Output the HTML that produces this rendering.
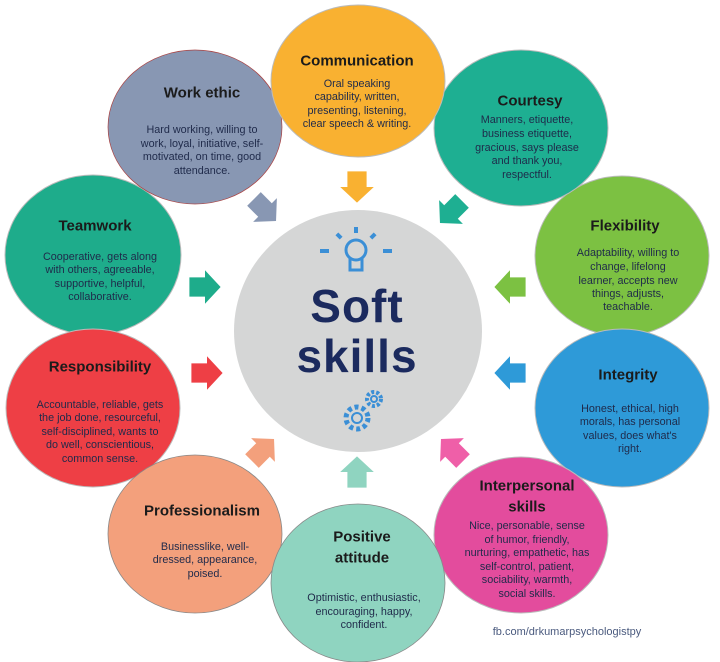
<!DOCTYPE html>
<html><head><meta charset="utf-8"><style>
html,body{margin:0;padding:0;background:#fff;}
svg{display:block;font-family:"Liberation Sans",sans-serif;}
.t{font-weight:bold;font-size:15px;fill:#1b1b1b;text-anchor:middle;dominant-baseline:central;}
.b{font-size:10.8px;fill:#1f2a4a;text-anchor:middle;dominant-baseline:central;}
</style></head><body>
<svg width="720" height="662" viewBox="0 0 720 662" xmlns="http://www.w3.org/2000/svg">
<defs><polygon id="ar" points="-8,-13 8,-13 8,0 14,0 0,13 -14,0 -8,0"/></defs>
<ellipse cx="358" cy="331" rx="124" ry="121" fill="#d5d6d6"/>
<ellipse cx="93" cy="255" rx="88" ry="80" fill="#1eac8b" stroke="#bbb" stroke-width="1"/>
<ellipse cx="622" cy="256" rx="87" ry="80" fill="#7cc142" stroke="#bbb" stroke-width="1"/>
<ellipse cx="93" cy="408" rx="87" ry="79" fill="#ee3f45" stroke="#bbb" stroke-width="1"/>
<ellipse cx="622" cy="408" rx="87" ry="79" fill="#2e9ad8" stroke="#bbb" stroke-width="1"/>
<ellipse cx="195" cy="127" rx="87" ry="77" fill="#8897b3" stroke="#a44" stroke-width="0.7"/>
<ellipse cx="521" cy="128" rx="87" ry="78" fill="#1eaf92" stroke="#bbb" stroke-width="1"/>
<ellipse cx="358" cy="81" rx="87" ry="76" fill="#f9b131" stroke="#bbb" stroke-width="1"/>
<ellipse cx="195" cy="534" rx="87" ry="79" fill="#f3a07c" stroke="#888" stroke-width="0.8"/>
<ellipse cx="521" cy="535" rx="87" ry="78" fill="#e34c9d" stroke="#bbb" stroke-width="1"/>
<ellipse cx="358" cy="583" rx="87" ry="79" fill="#8fd4c0" stroke="#888" stroke-width="0.8"/>

<use href="#ar" fill="#f9b131" transform="translate(357,187) scale(1.2)"/>
<use href="#ar" fill="#8897b3" transform="translate(265,210) rotate(-45) scale(1.2)"/>
<use href="#ar" fill="#1eaf92" transform="translate(451,212) rotate(45) scale(1.2)"/>
<use href="#ar" fill="#1eac8b" transform="translate(205,287) rotate(-90) scale(1.2)"/>
<use href="#ar" fill="#7cc142" transform="translate(510,287) rotate(90) scale(1.2)"/>
<use href="#ar" fill="#ee3f45" transform="translate(207,373) rotate(-90) scale(1.2)"/>
<use href="#ar" fill="#2e9ad8" transform="translate(510,373) rotate(90) scale(1.2)"/>
<use href="#ar" fill="#f3a07c" transform="translate(263,450) rotate(-135) scale(1.2)"/>
<use href="#ar" fill="#8fd4c0" transform="translate(357,472) rotate(180) scale(1.2)"/>
<use href="#ar" fill="#ef5fa8" transform="translate(452,450) rotate(135) scale(1.2)"/>

<g fill="none" stroke="#3b8fd6" stroke-width="3">
<circle cx="356" cy="250" r="10"/>
<path d="M350 258 L350 270 L362 270 L362 258"/>
</g>
<g fill="#3b8fd6">
<rect x="320" y="249" width="9" height="4"/><rect x="383" y="249" width="9" height="4"/>
<rect x="336" y="234" width="6" height="4" transform="rotate(45 339 236)"/><rect x="370" y="234" width="6" height="4" transform="rotate(-45 373 236)"/>
<rect x="354" y="227" width="4" height="6"/>
</g>
<g fill="none" stroke="#3b8fd6" stroke-width="2">
<circle cx="357" cy="418" r="11" stroke-dasharray="4 3" stroke-width="5"/>
<circle cx="357" cy="418" r="5"/>
<circle cx="374" cy="399" r="7" stroke-dasharray="3 2" stroke-width="4"/>
<circle cx="374" cy="399" r="3"/>
</g>
<text x="357" y="306" text-anchor="middle" dominant-baseline="central" font-size="46" font-weight="bold" fill="#1b2a5e" letter-spacing="1">Soft</text>
<text x="357" y="356" text-anchor="middle" dominant-baseline="central" font-size="46" font-weight="bold" fill="#1b2a5e" letter-spacing="1">skills</text>

<text class="t" x="357" y="61">Communication</text>
<text class="b" x="357" y="84">Oral speaking</text><text class="b" x="357" y="97">capability, written,</text><text class="b" x="357" y="111">presenting, listening,</text><text class="b" x="357" y="124">clear speech &amp; writing.</text>

<text class="t" x="202" y="93">Work ethic</text>
<text class="b" x="202" y="130">Hard working, willing to</text><text class="b" x="202" y="144">work, loyal, initiative, self-</text><text class="b" x="202" y="157">motivated, on time, good</text><text class="b" x="202" y="171">attendance.</text>

<text class="t" x="530" y="101">Courtesy</text>
<text class="b" x="527" y="120">Manners, etiquette,</text><text class="b" x="527" y="134">business etiquette,</text><text class="b" x="527" y="148">gracious, says please</text><text class="b" x="527" y="161">and thank you,</text><text class="b" x="527" y="175">respectful.</text>

<text class="t" x="95" y="226">Teamwork</text>
<text class="b" x="100" y="257">Cooperative, gets along</text><text class="b" x="100" y="270">with others, agreeable,</text><text class="b" x="100" y="284">supportive, helpful,</text><text class="b" x="100" y="297">collaborative.</text>

<text class="t" x="625" y="226">Flexibility</text>
<text class="b" x="628" y="253">Adaptability, willing to</text><text class="b" x="628" y="267">change, lifelong</text><text class="b" x="628" y="281">learner, accepts new</text><text class="b" x="628" y="294">things, adjusts,</text><text class="b" x="628" y="307">teachable.</text>

<text class="t" x="100" y="367">Responsibility</text>
<text class="b" x="100" y="405">Accountable, reliable, gets</text><text class="b" x="100" y="418">the job done, resourceful,</text><text class="b" x="100" y="432">self-disciplined, wants to</text><text class="b" x="100" y="445">do well, conscientious,</text><text class="b" x="100" y="459">common sense.</text>

<text class="t" x="628" y="375">Integrity</text>
<text class="b" x="630" y="409">Honest, ethical, high</text><text class="b" x="630" y="422">morals, has personal</text><text class="b" x="630" y="436">values, does what's</text><text class="b" x="630" y="449">right.</text>

<text class="t" x="527" y="486">Interpersonal</text><text class="t" x="527" y="507">skills</text>
<text class="b" x="527" y="526">Nice, personable, sense</text><text class="b" x="527" y="540">of humor, friendly,</text><text class="b" x="527" y="553">nurturing, empathetic, has</text><text class="b" x="527" y="567">self-control, patient,</text><text class="b" x="527" y="580">sociability, warmth,</text><text class="b" x="527" y="594">social skills.</text>

<text class="t" x="202" y="511">Professionalism</text>
<text class="b" x="205" y="547">Businesslike, well-</text><text class="b" x="205" y="560">dressed, appearance,</text><text class="b" x="205" y="574">poised.</text>

<text class="t" x="362" y="537">Positive</text><text class="t" x="362" y="558">attitude</text>
<text class="b" x="364" y="598">Optimistic, enthusiastic,</text><text class="b" x="364" y="612">encouraging, happy,</text><text class="b" x="364" y="625">confident.</text>

<text x="567" y="632" text-anchor="middle" dominant-baseline="central" font-size="11" fill="#4a5a7e">fb.com/drkumarpsychologistpy</text>
</svg>
</body></html>
